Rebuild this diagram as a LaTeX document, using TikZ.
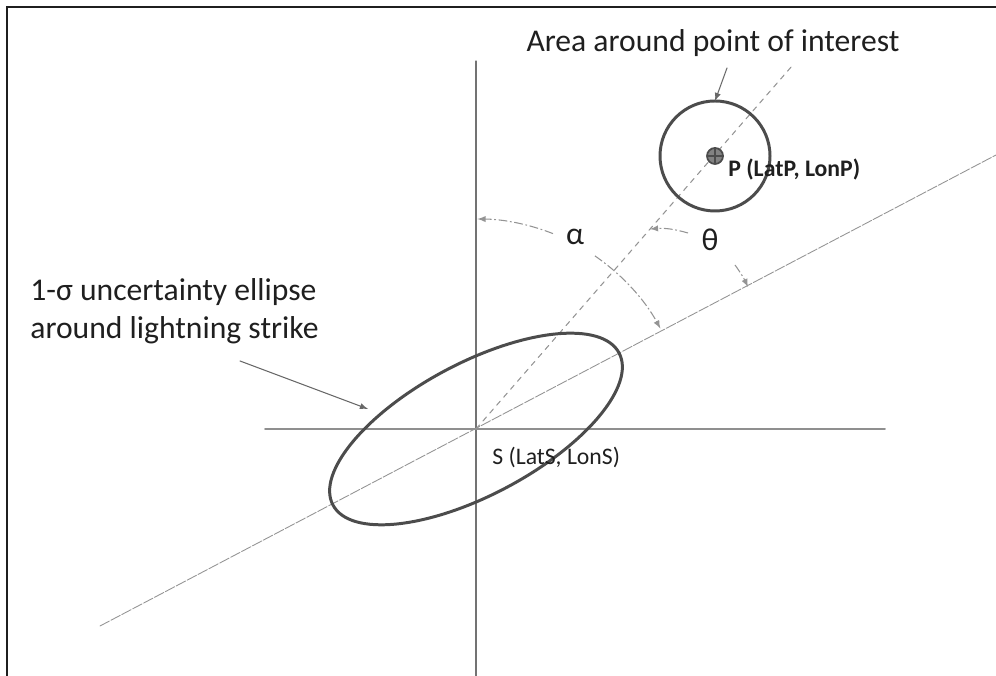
\documentclass[tikz,border=0pt]{standalone}
\usepackage{fontspec}
\setmainfont{Carlito}
\usetikzlibrary{arrows,calc}
\usepackage{tkz-euclide}
\definecolor{ShapeClr}{rgb}{0.3,0.3,0.3}
\definecolor{AxisClr}{rgb}{0.45,0.45,0.45}
\definecolor{GuideClr}{rgb}{0.58,0.58,0.58}
\definecolor{TextClr}{rgb}{0.12,0.12,0.12}
\tikzset{
  shapeline/.style={ShapeClr,line width=1.7pt},
  axisline/.style={AxisClr,line width=0.6pt},
  guideline/.style={GuideClr,line width=0.5pt,dash pattern=on 6pt off 1pt},
  sightline/.style={GuideClr,line width=0.6pt,dash pattern=on 3pt off 3pt},
  angarrow/.style={GuideClr,line width=0.6pt,dash pattern=on 5pt off 1.5pt on 1pt off 1.5pt,-latex},
  callout/.style={GuideClr!70!black,line width=0.6pt,-latex},
  bigtext/.style={font=\fontsize{18}{21.6}\selectfont,text=TextClr,inner sep=0pt},
  coordtext/.style={font=\fontsize{13.5}{16}\selectfont,text=TextClr,inner sep=0pt}
}

\begin{document}
\begin{tikzpicture}
\useasboundingbox (0,0) rectangle (19.92,13.52);

% points (1 px = 0.02 cm)
\tkzDefPoints{0.14/13.38/F0,19.92/13.38/F1,0.14/0/F2}
\tkzDefPoints{9.52/4.94/S,9.52/12.30/V1,9.52/0/V2,5.30/4.94/H1,17.70/4.94/H2}
\tkzDefPoints{2.00/1.00/M1,19.92/10.42/M2,15.84/12.20/D}
\tkzDefPoints{14.30/10.40/P,15.40/10.40/R,14.30/11.50/T,14.54/12.16/Q}
\tkzDefPoints{4.80/6.30/E1,7.36/5.34/E2}
\tkzDefPoints{13.76/8.86/th1,13.00/8.94/th2,14.70/8.22/th3,14.96/7.78/th4}
\coordinate (al1) at ($(S)+(68.5:4.2)$);
\coordinate (al2) at ($(S)+(55.5:4.2)$);

% frame
\draw[TextClr,line width=1.1pt] (F2) -- (F0) -- (F1);

% axes and sight lines
\tkzDrawSegment[axisline](V1,V2)
\tkzDrawSegment[AxisClr!80,line width=1.1pt](H1,H2)
\tkzDrawSegment[guideline](M1,M2)
\tkzDrawSegment[sightline](S,D)

% ellipse and area of interest
\draw[shapeline,rotate around={28:(S)}] (S) ellipse [x radius=3.24, y radius=1.32];
\tkzDrawCircle[shapeline](P,R)
\fill[ShapeClr!70] (P) circle (0.16);
\draw[ShapeClr,line width=1pt] (P) circle (0.16)
  ($(P)+(-0.16,0)$) -- ($(P)+(0.16,0)$)
  ($(P)+(0,-0.16)$) -- ($(P)+(0,0.16)$);

% angles
\draw[angarrow] (al1) arc[start angle=68.5, end angle=89.6, radius=4.2];
\draw[angarrow] (al2) arc[start angle=55.5, end angle=28.6, radius=4.2];
\draw[angarrow] (th1) to[bend right=10] (th2);
\draw[angarrow] (th3) to[bend left=5] (th4);
\node[bigtext] (alpha) at (11.50,8.78) {α};
\node[bigtext] (theta) at (14.20,8.72) {θ};

% labels
\node[bigtext] (area) at (14.26,12.66) {Area around point of interest};
\tkzDrawSegment[callout](Q,T)
\node[bigtext,anchor=west,align=left] (ell) at (0.60,7.30) {1-σ uncertainty ellipse\\around lightning strike};
\tkzDrawSegment[callout](E1,E2)
\node[coordtext,font=\fontsize{13.5}{16}\selectfont\bfseries,anchor=base west] (plbl) at (14.56,9.98) {P (LatP, LonP)};
\node[coordtext,anchor=base west] (slbl) at (9.84,4.22) {S (LatS, LonS)};

\end{tikzpicture}
\end{document}
